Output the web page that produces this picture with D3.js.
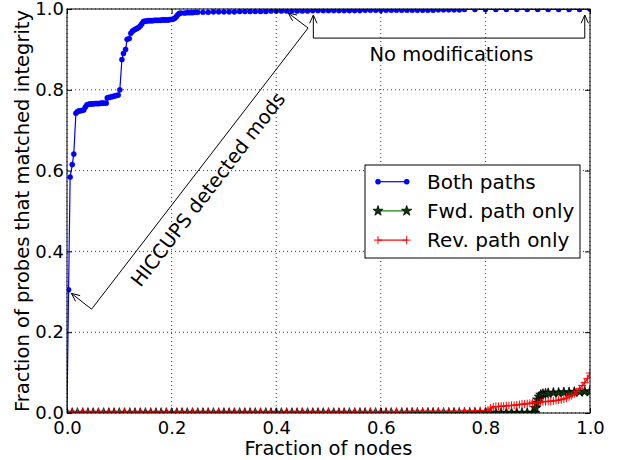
<!DOCTYPE html>
<html>
<head>
<meta charset="utf-8">
<script src="https://cdn.jsdelivr.net/npm/d3@7"></script>
<style>
  body { margin: 0; background: #fff; }
  svg text { font-family: "DejaVu Sans", sans-serif; fill: #000; }
</style>
</head>
<body>
<svg id="chart" width="620" height="460"></svg>
<script>
// Values (fraction of nodes, fraction of probes)
const xTicks = [0, 0.2, 0.4, 0.6, 0.8, 1.0];
const yTicks = [0, 0.2, 0.4, 0.6, 0.8, 1.0];
const seriesNames = ["Both paths", "Fwd. path only", "Rev. path only"];

const bothPaths = [
  [0.000,0.000],[0.003,0.305],[0.006,0.584],[0.010,0.615],[0.013,0.641],[0.017,0.742],
  [0.020,0.746],[0.023,0.748],[0.026,0.748],[0.029,0.749],[0.032,0.750],[0.035,0.757],
  [0.038,0.763],[0.041,0.764],[0.044,0.765],[0.047,0.765],[0.050,0.765],[0.053,0.766],
  [0.056,0.766],[0.059,0.766],[0.062,0.766],[0.065,0.767],[0.068,0.767],[0.071,0.767],
  [0.075,0.767],[0.077,0.780],[0.080,0.781],[0.083,0.782],[0.086,0.783],[0.089,0.784],
  [0.092,0.785],[0.095,0.786],[0.098,0.787],[0.101,0.800],[0.105,0.875],[0.108,0.890],
  [0.112,0.900],[0.115,0.925],[0.119,0.927],[0.122,0.940],[0.125,0.945],[0.128,0.948],
  [0.131,0.950],[0.134,0.952],[0.137,0.954],[0.140,0.958],[0.143,0.963],[0.146,0.969],
  [0.149,0.970],[0.152,0.970],[0.155,0.971],[0.158,0.971],[0.161,0.971],[0.164,0.971],
  [0.167,0.972],[0.170,0.972],[0.173,0.972],[0.176,0.972],[0.179,0.972],[0.182,0.973],
  [0.185,0.973],[0.188,0.973],[0.191,0.973],[0.194,0.973],[0.197,0.974],[0.200,0.974],
  [0.203,0.975],[0.206,0.977],[0.209,0.981],[0.212,0.986],[0.215,0.989],[0.218,0.990],
  [0.225,0.990],[0.230,0.991],[0.235,0.991],[0.240,0.991],[0.245,0.992],[0.250,0.992],
  [0.260,0.992],[0.270,0.992],[0.280,0.993],[0.290,0.993],[0.300,0.993],[0.310,0.993],
  [0.320,0.993],[0.330,0.994],[0.340,0.994],[0.350,0.994],[0.360,0.994],[0.370,0.994],
  [0.380,0.994],[0.390,0.995],[0.400,0.995],[0.410,0.995],[0.420,0.995],[0.430,0.995],
  [0.440,0.995],[0.450,0.995],[0.460,0.995],[0.470,0.996],[0.480,0.996],[0.490,0.996],
  [0.500,0.996],[0.510,0.996],[0.520,0.996],[0.530,0.996],[0.540,0.996],[0.550,0.996],
  [0.560,0.996],[0.570,0.997],[0.580,0.997],[0.590,0.997],[0.600,0.997],[0.610,0.997],
  [0.620,0.997],[0.630,0.997],[0.640,0.997],[0.650,0.997],[0.660,0.997],[0.670,0.997],
  [0.680,0.997],[0.690,0.997],[0.700,0.997],[0.710,0.998],[0.720,0.998],[0.730,0.998],
  [0.740,0.998],[0.750,0.998],[0.760,0.999],[0.780,0.999],[0.800,0.999],[0.820,0.999],
  [0.840,0.999],[0.860,0.999],[0.880,0.999],[0.900,0.999],[0.920,0.999],[0.940,0.999],
  [0.960,0.999],[0.980,0.999],[1.000,1.000]
];

const fwdPathOnly = [
  [0.00,0],[0.01,0],[0.02,0],[0.03,0],[0.04,0],[0.05,0],[0.06,0],[0.07,0],[0.08,0],[0.09,0],
  [0.10,0],[0.11,0],[0.12,0],[0.13,0],[0.14,0],[0.15,0],[0.16,0],[0.17,0],[0.18,0],[0.19,0],
  [0.20,0],[0.21,0],[0.22,0],[0.23,0],[0.24,0],[0.25,0],[0.26,0],[0.27,0],[0.28,0],[0.29,0],
  [0.30,0],[0.31,0],[0.32,0],[0.33,0],[0.34,0],[0.35,0],[0.36,0],[0.37,0],[0.38,0],[0.39,0],
  [0.40,0],[0.41,0],[0.42,0],[0.43,0],[0.44,0],[0.45,0],[0.46,0],[0.47,0],[0.48,0],[0.49,0],
  [0.50,0],[0.51,0],[0.52,0],[0.53,0],[0.54,0],[0.55,0],[0.56,0],[0.57,0],[0.58,0],[0.59,0],
  [0.60,0],[0.61,0],[0.62,0],[0.63,0],[0.64,0],[0.65,0],[0.66,0],[0.67,0],[0.68,0],[0.69,0],
  [0.70,0],[0.71,0],[0.72,0],[0.73,0],[0.74,0],[0.75,0],[0.76,0],[0.77,0],[0.78,0],[0.79,0],
  [0.80,0],[0.81,0],[0.82,0],[0.83,0],[0.84,0],[0.85,0],[0.86,0],[0.87,0],[0.88,0],[0.89,0],
  [0.894,0.000],[0.896,0.012],[0.898,0.025],[0.900,0.033],[0.903,0.040],[0.906,0.045],
  [0.910,0.047],[0.915,0.048],[0.920,0.049],[0.930,0.050],[0.940,0.050],[0.950,0.051],
  [0.960,0.051],[0.970,0.052],[0.980,0.052],[0.990,0.053],[1.000,0.053]
];

const revPathOnly = [
  [0.00,0.002],[0.01,0.002],[0.02,0.002],[0.03,0.002],[0.04,0.002],[0.05,0.002],[0.06,0.002],
  [0.07,0.002],[0.08,0.002],[0.09,0.002],[0.10,0.002],[0.11,0.002],[0.12,0.002],[0.13,0.002],
  [0.14,0.002],[0.15,0.002],[0.16,0.002],[0.17,0.002],[0.18,0.002],[0.19,0.002],[0.20,0.002],
  [0.21,0.002],[0.22,0.002],[0.23,0.002],[0.24,0.002],[0.25,0.002],[0.26,0.002],[0.27,0.002],
  [0.28,0.002],[0.29,0.002],[0.30,0.002],[0.31,0.002],[0.32,0.002],[0.33,0.002],[0.34,0.002],
  [0.35,0.002],[0.36,0.002],[0.37,0.002],[0.38,0.002],[0.39,0.002],[0.40,0.002],[0.41,0.002],
  [0.42,0.002],[0.43,0.002],[0.44,0.002],[0.45,0.002],[0.46,0.002],[0.47,0.002],[0.48,0.002],
  [0.49,0.002],[0.50,0.002],[0.51,0.002],[0.52,0.002],[0.53,0.002],[0.54,0.002],[0.55,0.003],
  [0.56,0.003],[0.57,0.003],[0.58,0.003],[0.59,0.003],[0.60,0.003],[0.61,0.003],[0.62,0.003],
  [0.63,0.003],[0.64,0.003],[0.65,0.003],[0.66,0.004],[0.67,0.004],[0.68,0.004],[0.69,0.004],
  [0.70,0.004],[0.71,0.004],[0.72,0.004],[0.73,0.004],[0.74,0.004],[0.75,0.004],[0.76,0.005],
  [0.77,0.005],[0.78,0.005],[0.79,0.006],[0.80,0.006],[0.805,0.007],[0.810,0.012],
  [0.815,0.015],[0.820,0.016],[0.825,0.016],[0.830,0.017],[0.835,0.017],[0.840,0.018],
  [0.845,0.018],[0.850,0.019],[0.855,0.019],[0.860,0.020],[0.865,0.021],[0.870,0.022],
  [0.875,0.022],[0.880,0.023],[0.885,0.024],[0.890,0.025],[0.895,0.025],[0.900,0.026],
  [0.905,0.027],[0.910,0.028],[0.915,0.028],[0.920,0.029],[0.925,0.029],[0.930,0.030],
  [0.935,0.031],[0.940,0.032],[0.945,0.033],[0.950,0.035],[0.955,0.037],[0.960,0.040],
  [0.965,0.043],[0.970,0.047],[0.975,0.053],[0.980,0.060],[0.985,0.068],[0.990,0.075],
  [0.995,0.085],[1.000,0.099]
];

// Layout
const width = 620, height = 460;
const margin = { left: 67, right: 30, top: 9, bottom: 47 };
const plotW = width - margin.left - margin.right;
const plotH = height - margin.top - margin.bottom;

const svg = d3.select("#chart");
svg.append("rect").attr("width", width).attr("height", height).attr("fill", "#fff");

const x = d3.scaleLinear().domain([0, 1]).range([0, plotW]);
const y = d3.scaleLinear().domain([0, 1]).range([plotH, 0]);

const g = svg.append("g").attr("transform", `translate(${margin.left},${margin.top})`);

svg.append("defs").append("clipPath").attr("id", "plot-clip")
  .append("rect").attr("width", plotW).attr("height", plotH);

// dotted grid
const grid = g.append("g").attr("stroke", "#000").attr("stroke-width", 0.8)
  .attr("stroke-dasharray", "1,3");
grid.selectAll(".gx").data(xTicks).enter().append("line")
  .attr("x1", d => x(d)).attr("x2", d => x(d)).attr("y1", 0).attr("y2", plotH);
grid.selectAll(".gy").data(yTicks).enter().append("line")
  .attr("y1", d => y(d)).attr("y2", d => y(d)).attr("x1", 0).attr("x2", plotW);

const series = [
  { name: seriesNames[0], data: bothPaths, color: "#0000ff", marker: "dot" },
  { name: seriesNames[1], data: fwdPathOnly, color: "#008000", marker: "star" },
  { name: seriesNames[2], data: revPathOnly, color: "#ff0000", marker: "plus" }
];

const line = d3.line().x(d => x(d[0])).y(d => y(d[1]));
const starPath = d3.symbol().type(d3.symbolStar).size(32)();

function drawMarker(sel, kind, color) {
  if (kind === "dot") {
    sel.append("circle").attr("r", 2.6).attr("fill", color).attr("stroke", color).attr("stroke-width", 0.4);
  } else if (kind === "star") {
    sel.append("path").attr("d", starPath).attr("fill", "#0a3a0a").attr("stroke", "#000").attr("stroke-width", 0.8);
  } else {
    sel.append("path").attr("d", "M-4,0H4M0,-4V4").attr("stroke", color).attr("stroke-width", 1).attr("fill", "none");
  }
}

const plot = g.append("g").attr("clip-path", "url(#plot-clip)");
series.forEach(s => {
  plot.append("path").datum(s.data).attr("d", line)
    .attr("fill", "none").attr("stroke", s.color).attr("stroke-width", 1.2);
  plot.append("g").selectAll("g").data(s.data).enter().append("g")
    .attr("transform", d => `translate(${x(d[0])},${y(d[1])})`)
    .each(function() { drawMarker(d3.select(this), s.marker, s.color); });
});

// open "->" arrow head
function arrowHead(tip, from) {
  const ang = Math.atan2(from[1] - tip[1], from[0] - tip[0]);
  const len = 9, spread = 0.42;
  const a = [tip[0] + len * Math.cos(ang - spread), tip[1] + len * Math.sin(ang - spread)];
  const b = [tip[0] + len * Math.cos(ang + spread), tip[1] + len * Math.sin(ang + spread)];
  return `M${a[0]},${a[1]}L${tip[0]},${tip[1]}L${b[0]},${b[1]}`;
}
const P = d => [x(d[0]), y(d[1])];

// HICCUPS annotation (data coords)
const hicTipLow = [0.0084, 0.296], hicCornerLow = [0.047, 0.257];
const hicCornerHigh = [0.461, 0.953], hicTipHigh = [0.423, 0.990];
const ann = g.append("g").attr("fill", "none").attr("stroke", "#000").attr("stroke-width", 1);
ann.append("path").attr("d", d3.line()([P(hicTipLow), P(hicCornerLow), P(hicCornerHigh), P(hicTipHigh)]));
ann.append("path").attr("d", arrowHead(P(hicTipLow), P(hicCornerLow)));
ann.append("path").attr("d", arrowHead(P(hicTipHigh), P(hicCornerHigh)));

const hicAngle = Math.atan2(P(hicCornerHigh)[1] - P(hicCornerLow)[1], P(hicCornerHigh)[0] - P(hicCornerLow)[0]) * 180 / Math.PI;
g.append("text").attr("transform", `translate(${x(0.270)},${y(0.553)}) rotate(${hicAngle})`)
  .attr("text-anchor", "middle").attr("dominant-baseline", "central")
  .style("font-size", "19.5px").text("HICCUPS detected mods");

// No modifications bracket
const noModLeft = 0.471, noModRight = 0.990, noModBar = 0.928, noModTip = 0.985;
ann.append("path").attr("d", d3.line()([P([noModLeft, noModTip]), P([noModLeft, noModBar]),
  P([noModRight, noModBar]), P([noModRight, noModTip])]));
ann.append("path").attr("d", arrowHead(P([noModLeft, noModTip]), P([noModLeft, noModBar])));
ann.append("path").attr("d", arrowHead(P([noModRight, noModTip]), P([noModRight, noModBar])));
g.append("text").attr("x", x(0.735)).attr("y", y(0.872)).attr("text-anchor", "middle")
  .style("font-size", "19.5px").text("No modifications");

// Legend
const lg = svg.append("g").attr("transform", "translate(365,165)");
lg.append("rect").attr("width", 215).attr("height", 93).attr("fill", "#fff").attr("stroke", "#000").attr("stroke-width", 1);
series.forEach((s, i) => {
  const row = lg.append("g").attr("transform", `translate(0,${16.7 + i * 29.2})`);
  row.append("line").attr("x1", 13).attr("x2", 41.7).attr("stroke", s.color).attr("stroke-width", 1.2);
  [13, 41.7].forEach(px => drawMarker(row.append("g").attr("transform", `translate(${px},0)`), s.marker, s.color));
  row.append("text").attr("x", 62).attr("dominant-baseline", "central").style("font-size", "20px").text(s.name);
});

// frame
g.append("rect").attr("width", plotW).attr("height", plotH).attr("fill", "none").attr("stroke", "#000").attr("stroke-width", 1);

// axes, ticks pointing inward on all sides
const fmt = d3.format(".1f");
const axB = g.append("g").attr("transform", `translate(0,${plotH})`)
  .call(d3.axisBottom(x).tickValues(xTicks).tickFormat(fmt).tickSizeInner(-5).tickSizeOuter(0).tickPadding(8));
const axL = g.append("g")
  .call(d3.axisLeft(y).tickValues(yTicks).tickFormat(fmt).tickSizeInner(-5).tickSizeOuter(0).tickPadding(3));
const axT = g.append("g")
  .call(d3.axisTop(x).tickValues(xTicks).tickFormat("").tickSizeInner(-5).tickSizeOuter(0));
const axR = g.append("g").attr("transform", `translate(${plotW},0)`)
  .call(d3.axisRight(y).tickValues(yTicks).tickFormat("").tickSizeInner(-5).tickSizeOuter(0));
[axB, axL, axT, axR].forEach(a => {
  a.select(".domain").remove();
  a.selectAll("text").attr("font-family", null).attr("font-size", null).style("font-size", "18px");
  a.selectAll("line").attr("stroke", "#000");
});

// axis titles
svg.append("text").attr("x", margin.left + plotW / 2).attr("y", 455).attr("text-anchor", "middle")
  .style("font-size", "19.5px").text("Fraction of nodes");
svg.append("text").attr("transform", `translate(29,${margin.top + plotH / 2}) rotate(-90)`)
  .attr("text-anchor", "middle").style("font-size", "19.5px").text("Fraction of probes that matched integrity");
</script>
</body>
</html>
